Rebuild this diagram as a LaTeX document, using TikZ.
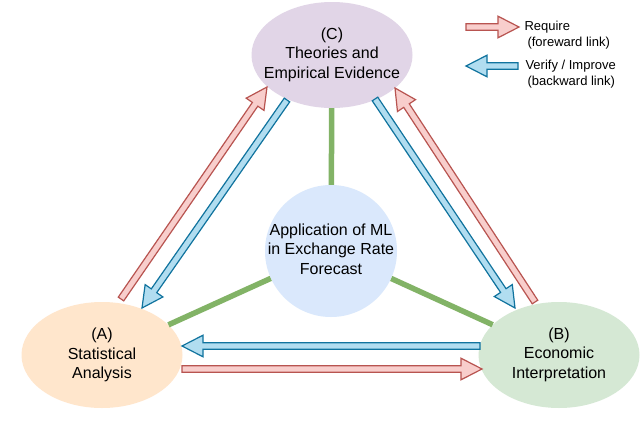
\documentclass[tikz,border=0pt]{standalone}
\usepackage{fontspec}
\setmainfont{Liberation Sans}
\usetikzlibrary{shapes.geometric,calc}
\definecolor{cA}{HTML}{FFE6CC}
\definecolor{cB}{HTML}{D5E8D4}
\definecolor{cC}{HTML}{E1D5E7}
\definecolor{cM}{HTML}{DAE8FC}
\definecolor{redF}{HTML}{F8CECC}
\definecolor{redD}{HTML}{B85450}
\definecolor{bluF}{HTML}{B1DDF0}
\definecolor{bluD}{HTML}{10739E}
\definecolor{grn}{HTML}{82B366}
\newcommand{\flexarrow}[4]{%
  \coordinate (fab) at ($(#2)!21pt!(#1)$);
  \filldraw[fill=#3,draw=#4,line width=1.2pt,line join=miter]
    ($(#1)!3.3pt!90:(#2)$) -- ($(fab)!3.3pt!90:(#2)$) -- ($(fab)!10.8pt!90:(#2)$)
    -- (#2) -- ($(fab)!10.8pt!-90:(#2)$) -- ($(fab)!3.3pt!-90:(#2)$)
    -- ($(#1)!3.3pt!-90:(#2)$) -- cycle;
}
\newcommand{\slimtext}[1]{\makebox[0pt][c]{\begin{tabular}{@{}c@{}}#1\end{tabular}}}
\begin{document}
\begin{tikzpicture}[x=1pt,y=-1pt,
  el/.style={ellipse,minimum width=161pt,minimum height=106pt,inner sep=0pt,
    align=center,font=\fontsize{16}{19.2}\selectfont},
  link/.style={draw=grn,line width=5.5pt},
  legtext/.style={anchor=west,align=left,font=\fontsize{13}{16}\selectfont}]
\useasboundingbox (0,0) rectangle (640,434);
\fill[white] (0,0) rectangle (640,434);
% nodes
\node[el,fill=cC] (C) at (332,55) {\slimtext{(C)\\Theories and\\Empirical Evidence}};
\node[el,fill=cA] (A) at (102,355) {(A)\\Statistical\\Analysis};
\node[el,fill=cB] (B) at (559,355) {\slimtext{(B)\\Economic\\Interpretation}};
\node[circle,fill=cM,minimum size=132pt,inner sep=0pt,
  font=\fontsize{16}{19.2}\selectfont] (M) at (331,251)
  {\slimtext{Application of ML\\in Exchange Rate\\Forecast}};
% green links
\draw[link] (C) -- (M);
\draw[link] (A) -- (M);
\draw[link] (B) -- (M);
% arrow end points
\coordinate (ACr0) at (121,299); \coordinate (ACr1) at (267,87);
\coordinate (CAb0) at (287,100); \coordinate (CAb1) at (142,308);
\coordinate (CBb0) at (375,99);  \coordinate (CBb1) at (515,308);
\coordinate (BCr0) at (535,302); \coordinate (BCr1) at (395,88);
\coordinate (BAb0) at (480,346); \coordinate (BAb1) at (182,346);
\coordinate (ABr0) at (182,369); \coordinate (ABr1) at (482,369);
\coordinate (L1a) at (466,27); \coordinate (L1b) at (519,27);
\coordinate (L2a) at (518,66); \coordinate (L2b) at (466,66);
\flexarrow{ACr0}{ACr1}{redF}{redD}
\flexarrow{CAb0}{CAb1}{bluF}{bluD}
\flexarrow{CBb0}{CBb1}{bluF}{bluD}
\flexarrow{BCr0}{BCr1}{redF}{redD}
\flexarrow{BAb0}{BAb1}{bluF}{bluD}
\flexarrow{ABr0}{ABr1}{redF}{redD}
\flexarrow{L1a}{L1b}{redF}{redD}
\flexarrow{L2a}{L2b}{bluF}{bluD}
% legend text
\node[legtext] (LT1) at (521,35) {Require\\\hspace{3pt}(foreward link)};
\node[legtext] (LT2) at (522,74) {Verify / Improve\\\hspace{2pt}(backward link)};
\end{tikzpicture}
\end{document}
